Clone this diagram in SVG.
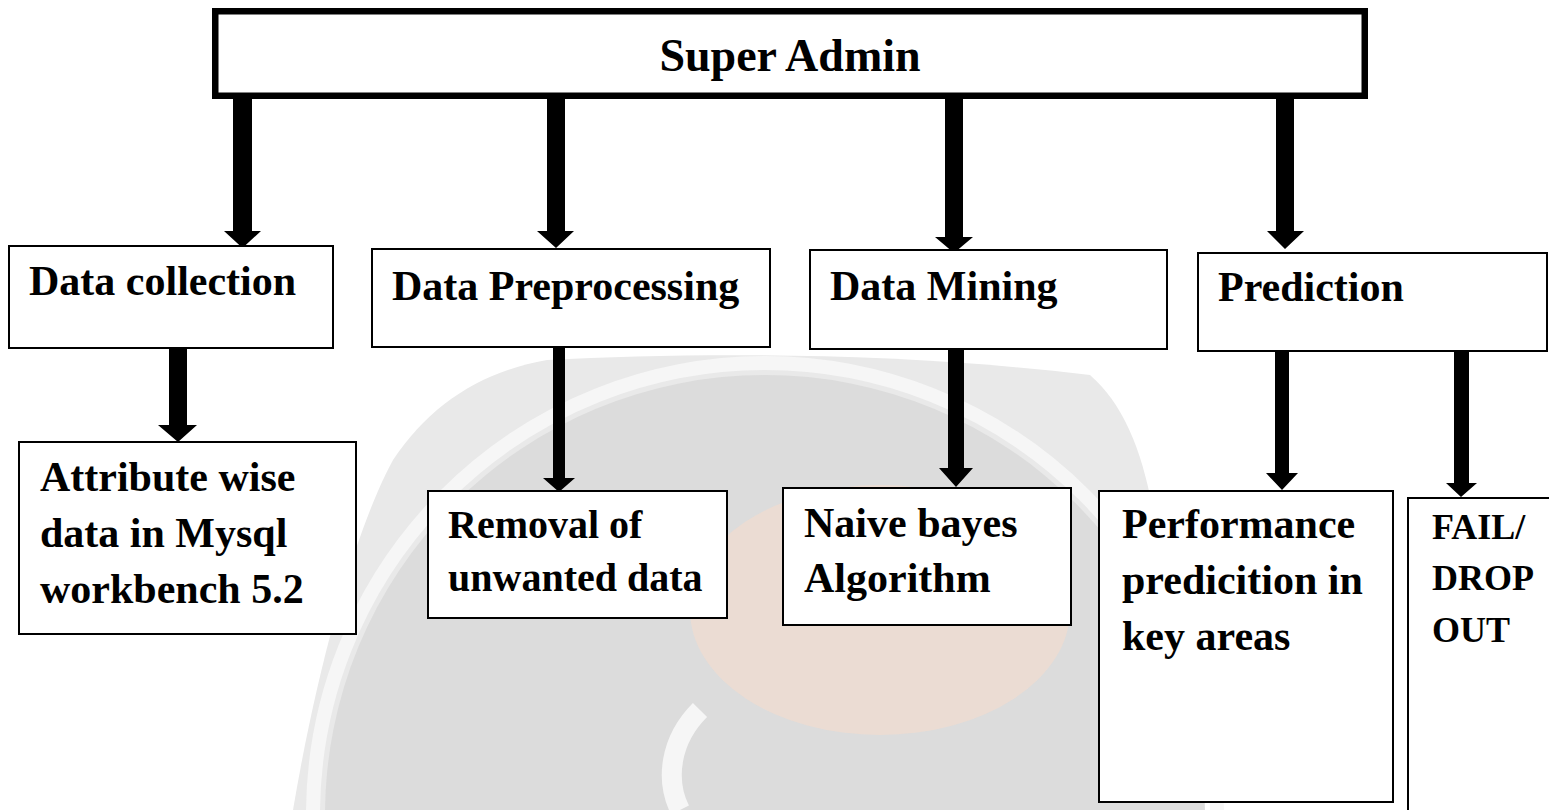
<svg xmlns="http://www.w3.org/2000/svg" width="1549" height="810" viewBox="0 0 1549 810">
<style>
.box{fill:#fff;stroke:#000;stroke-width:2}
.top{fill:#fff;stroke:#000;stroke-width:6.5}
.arrow{fill:#000;stroke:none}
text{font-family:"Liberation Serif","Times New Roman",serif;font-weight:700;fill:#000}
.l2{font-size:42px}
.l3{font-size:42px}
</style>
<rect width="1549" height="810" fill="#fff"/>
<g id="watermark">
<path d="M293,810 C320,650 360,520 393,460 C430,405 480,372 547,360 C700,352 900,352 1090,375 C1130,410 1150,470 1160,560 L1180,810 Z" fill="#e9e9e9"/>
<circle cx="765" cy="815" r="440" fill="#dcdcdc"/>
<circle cx="765" cy="815" r="452" fill="none" stroke="#f6f6f6" stroke-width="14"/>
<ellipse cx="880" cy="610" rx="190" ry="125" fill="#f5dccd" opacity="0.6"/>
<path d="M700,710 C670,740 665,780 680,810" fill="none" stroke="#f6f6f6" stroke-width="20"/>
</g>
<g id="connectors">
<polygon class="arrow" points="233,99 252,99 252,231 261,231 242.5,248 224,231 233,231"/>
<polygon class="arrow" points="547,99 565,99 565,231 574,231 556,248 537,231 547,231"/>
<polygon class="arrow" points="945,99 963,99 963,237 973,237 954,253 935,237 945,237"/>
<polygon class="arrow" points="1276,99 1294,99 1294,231 1304,231 1285,249 1267,231 1276,231"/>
<polygon class="arrow" points="169,349 187,349 187,425 197,425 178,442 158,425 169,425"/>
<polygon class="arrow" points="553,348 565,348 565,478 575,478 559,492 543,478 553,478"/>
<polygon class="arrow" points="948,350 964,350 964,468 973,468 956,487 939,468 948,468"/>
<polygon class="arrow" points="1275,352 1289,352 1289,473 1298,473 1282,490 1266,473 1275,473"/>
<polygon class="arrow" points="1454,352 1469,352 1469,483 1477,483 1461,497 1446,483 1454,483"/>
</g>
<g id="super-admin">
<rect class="top" x="215.25" y="11.25" width="1149.5" height="84.5"/>
<text x="790" y="71" font-size="46" text-anchor="middle">Super Admin</text>
</g>
<g id="data-collection">
<rect class="box" x="9" y="246" width="324" height="102"/>
<text class="l2" x="29" y="295">Data collection</text>
</g>
<g id="data-preprocessing">
<rect class="box" x="372" y="249" width="398" height="98"/>
<text class="l2" x="392" y="300">Data Preprocessing</text>
</g>
<g id="data-mining">
<rect class="box" x="810" y="250" width="357" height="99"/>
<text class="l2" x="830" y="300">Data Mining</text>
</g>
<g id="prediction">
<rect class="box" x="1198" y="253" width="349" height="98"/>
<text class="l2" x="1218" y="301">Prediction</text>
</g>
<g id="attribute">
<rect class="box" x="19" y="442" width="337" height="192"/>
<text class="l3" x="40" y="491">Attribute wise</text>
<text class="l3" x="40" y="547">data in Mysql</text>
<text class="l3" x="40" y="603">workbench 5.2</text>
</g>
<g id="removal">
<rect class="box" x="428" y="491" width="299" height="127"/>
<text x="448" y="538" font-size="40">Removal of</text>
<text x="448" y="591" font-size="40">unwanted data</text>
</g>
<g id="naive">
<rect class="box" x="783" y="488" width="288" height="137"/>
<text class="l3" x="804" y="537">Naive bayes</text>
<text class="l3" x="804" y="592">Algorithm</text>
</g>
<g id="performance">
<rect class="box" x="1099" y="491" width="294" height="311"/>
<text class="l3" x="1122" y="538">Performance</text>
<text class="l3" x="1122" y="594">predicition in</text>
<text class="l3" x="1122" y="650">key areas</text>
</g>
<g id="fail">
<rect class="box" x="1408" y="498" width="200" height="400"/>
<text x="1432" y="539" font-size="36">FAIL/</text>
<text x="1432" y="590" font-size="36">DROP</text>
<text x="1432" y="642" font-size="36">OUT</text>
</g>
</svg>
